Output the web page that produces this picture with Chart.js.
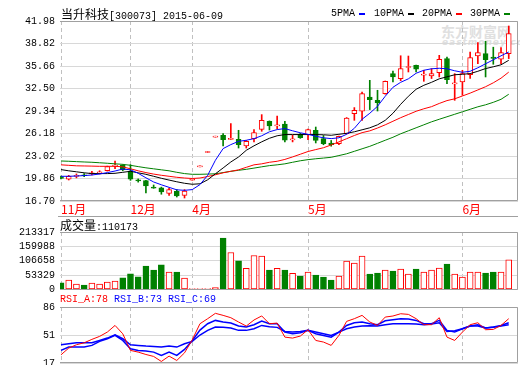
<!DOCTYPE html>
<html>
<head>
<meta charset="utf-8">
<title>当升科技 300073</title>
<script src="https://cdn.jsdelivr.net/npm/chart.js@4.4.1/dist/chart.umd.min.js"></script>
<style>
  html, body { margin: 0; padding: 0; background: #fff; }
  #box { position: relative; width: 520px; height: 365px; overflow: hidden; }
  #box canvas { position: absolute; left: 0; z-index: 1; }
  .t { position: absolute; white-space: nowrap; font: 10px/12px "Liberation Mono", monospace; color: #000; z-index: 2; }
  .zh { font: 12px/14px "Noto Sans CJK SC", sans-serif; }
  .sw { position: absolute; width: 6px; height: 2px; z-index: 2; }
  #wm { position: absolute; left: 441px; top: 21px; color: #e0e0e0; font: bold 14px "Noto Sans CJK SC", sans-serif; z-index: 0; }
  #wm2 { position: absolute; left: 442px; top: 37px; color: #e0e0e0; font: bold italic 9px "DejaVu Sans", sans-serif; letter-spacing: 1px; z-index: 0; }
</style>
</head>
<body>
<div id="box">
  <div id="wm">东方财富网</div>
  <div id="wm2">eastmoney.com</div>
  <canvas id="priceChart" width="520" height="218" style="top:0"></canvas>
  <canvas id="volChart" width="520" height="80" style="top:218px"></canvas>
  <canvas id="rsiChart" width="520" height="73" style="top:292px"></canvas>
  <div class="t" style="left:61px; top:7px"><span class="zh">当升科技</span>[300073] 2015-06-09</div>
  <div id="legend"></div>
  <div class="t" id="volTitle" style="left:60px; top:218px"></div>
  <div class="t" id="rsiTitle" style="left:60px; top:294px"></div>
</div>
<script>
// 月份刻度 (K线序号)
const monthIdx = [0, 9, 17, 32, 52];
const monthNames = ['11月', '12月', '4月', '5月', '6月'];

// 日K数据
const openP = [20.12, 19.75, 20.15, 20.38, 20.52, 20.66, 20.95, 21.60, 21.71, 20.85,
  19.66, 19.58, 18.64, 18.55, 17.75, 18.06, 17.50, 19.62, 21.50, 23.51,
  25.67, 25.93, 25.35, 25.36, 24.42, 25.46, 26.77, 27.89, 27.25, 27.50,
  25.28, 26.07, 26.03, 26.63, 25.46, 24.85, 24.76, 26.17, 28.98, 29.30,
  31.30, 30.84, 31.78, 34.59, 33.89, 35.45, 35.76, 34.38, 34.26, 34.73,
  36.70, 33.15, 33.41, 34.45, 37.06, 37.40, 36.90, 36.61, 37.40];
const closeP = [19.88, 20.15, 20.29, 20.24, 20.66, 20.80, 21.55, 21.74, 21.06, 19.78,
  19.52, 18.81, 18.50, 17.96, 18.30, 17.40, 18.10, 19.76, 21.64, 23.65,
  25.81, 25.32, 25.49, 24.62, 25.08, 26.30, 28.03, 27.23, 27.39, 25.25,
  25.42, 25.60, 26.73, 25.22, 24.76, 24.62, 25.79, 28.36, 29.44, 31.78,
  30.94, 30.52, 33.51, 34.12, 35.30, 35.59, 35.20, 34.52, 34.59, 36.61,
  33.75, 33.29, 34.59, 36.84, 37.54, 36.56, 36.72, 37.54, 40.20];
const highP = [20.20, 20.30, 20.50, 20.55, 20.85, 20.95, 21.60, 22.30, 21.80, 21.80,
  19.80, 19.62, 18.95, 18.65, 18.50, 18.30, 18.30, 19.76, 21.64, 23.65,
  25.81, 26.17, 27.57, 26.63, 25.20, 26.73, 28.83, 27.95, 28.64, 27.90,
  25.93, 26.20, 26.80, 27.09, 25.90, 25.20, 25.82, 28.42, 29.82, 32.00,
  33.65, 32.25, 33.55, 34.96, 37.10, 37.06, 35.80, 35.06, 35.30, 37.16,
  36.92, 34.59, 35.06, 37.60, 38.95, 39.14, 38.30, 38.24, 41.28];
const lowP = [19.80, 19.65, 19.95, 20.10, 20.35, 20.50, 20.90, 21.25, 20.95, 19.60,
  19.35, 17.85, 18.48, 17.65, 17.50, 17.26, 17.12, 19.62, 21.50, 23.51,
  25.67, 24.42, 25.30, 24.14, 24.14, 25.00, 26.49, 26.67, 26.87, 25.00,
  25.00, 25.50, 25.32, 24.85, 24.60, 24.40, 24.60, 26.10, 28.03, 28.00,
  29.54, 29.34, 31.70, 33.41, 33.60, 34.82, 34.82, 33.51, 33.90, 34.12,
  33.19, 30.84, 31.55, 33.90, 36.00, 34.12, 35.90, 35.99, 36.70];

// 均线
const maNames = ['5PMA', '10PMA', '20PMA', '30PMA'];
const ma5 = [20.17, 20.17, 20.21, 20.27, 20.35, 20.49, 20.69, 20.91, 21.19, 21.08,
  20.59, 19.96, 19.37, 18.98, 18.62, 18.27, 18.20, 18.30, 19.00, 20.31,
  22.42, 24.06, 24.62, 25.08, 25.23, 25.46, 25.86, 26.42, 26.73, 26.87,
  26.56, 26.28, 26.07, 25.79, 25.58, 25.46, 25.58, 26.07, 26.91, 28.18,
  29.02, 30.00, 31.41, 32.67, 33.37, 33.86, 34.64, 35.06, 35.27, 35.34,
  35.27, 34.99, 34.78, 34.92, 35.41, 35.97, 36.53, 37.09, 37.63];
const ma10 = [21.11, 20.94, 20.80, 20.66, 20.55, 20.55, 20.55, 20.59, 20.73, 20.87,
  20.66, 20.45, 20.17, 19.89, 19.64, 19.40, 19.19, 19.05, 19.12, 19.68,
  20.52, 21.34, 22.18, 22.88, 23.82, 24.45, 25.01, 25.51, 25.86, 26.03,
  26.03, 26.03, 26.03, 26.03, 26.00, 25.93, 26.07, 26.21, 26.42, 26.70,
  26.98, 27.40, 28.03, 29.02, 30.28, 31.41, 32.39, 32.95, 33.37, 33.86,
  34.14, 34.43, 34.50, 34.59, 34.92, 35.30, 35.55, 35.83, 36.46];
const ma20 = [21.78, 21.71, 21.64, 21.62, 21.60, 21.57, 21.57, 21.57, 21.50, 21.22,
  20.94, 20.69, 20.48, 20.31, 20.17, 20.03, 19.93, 19.86, 19.93, 20.14,
  20.38, 20.66, 20.87, 21.08, 21.43, 21.78, 21.92, 22.14, 22.28, 22.54,
  22.89, 23.27, 23.65, 23.92, 24.18, 24.57, 25.00, 25.45, 25.90, 26.30,
  26.55, 26.95, 27.40, 27.90, 28.40, 28.85, 29.30, 29.65, 29.95, 30.40,
  30.80, 31.05, 31.45, 31.85, 32.30, 32.75, 33.30, 33.95, 34.80];
const ma30 = [22.32, 22.28, 22.23, 22.18, 22.14, 22.07, 22.00, 21.92, 21.85, 21.71,
  21.53, 21.36, 21.22, 21.08, 20.94, 20.73, 20.55, 20.45, 20.45, 20.48,
  20.52, 20.69, 20.87, 21.01, 21.15, 21.32, 21.50, 21.67, 21.78, 21.92,
  22.14, 22.35, 22.51, 22.63, 22.73, 22.84, 23.08, 23.33, 23.68, 24.03,
  24.38, 24.80, 25.23, 25.65, 26.14, 26.56, 26.98, 27.40, 27.82, 28.18,
  28.53, 28.88, 29.23, 29.58, 29.93, 30.21, 30.56, 30.98, 31.69];

// 成交量
const volume = [25100, 35100, 20300, 16600, 24000, 20300, 27700, 31400, 43500, 58300,
  47200, 86700, 72000, 91500, 64600, 64600, 42400, 800, 1100, 1400,
  7400, 191100, 137300, 106300, 78200, 126200, 123600, 72000, 78200, 72000,
  59800, 49800, 64600, 53500, 46100, 35100, 49800, 105200, 97800, 123600,
  57200, 60900, 72000, 68300, 75600, 57200, 75600, 64600, 72000, 79300,
  94100, 57200, 46100, 64600, 64600, 60900, 64600, 64600, 110173];

// RSI
const rsiNames = ['RSI_A', 'RSI_B', 'RSI_C'];
const rsiLast = [78, 73, 69];
const rsiA = [27.1, 35.4, 39.5, 41.9, 46.1, 49.8, 55.1, 63.3, 53.0, 32.5,
  30.4, 27.5, 25.1, 18.9, 25.5, 20.1, 29.5, 45.5, 65.4, 71.6,
  78.2, 75.7, 72.8, 67.5, 62.5, 70.0, 75.0, 65.4, 66.2, 48.9,
  47.7, 50.2, 58.0, 44.8, 42.8, 38.7, 51.0, 68.3, 71.6, 75.7,
  67.5, 63.3, 73.6, 74.9, 77.7, 76.9, 71.6, 64.2, 64.2, 72.8,
  48.9, 44.8, 55.1, 64.2, 66.6, 58.0, 58.4, 63.3, 71.6];
const rsiB = [32.5, 36.6, 36.6, 36.6, 38.7, 43.6, 46.9, 51.0, 44.8, 34.5,
  32.5, 31.7, 30.4, 26.3, 30.4, 26.3, 33.7, 44.5, 57.5, 65.4,
  69.5, 67.5, 66.2, 62.5, 61.3, 64.2, 68.7, 65.4, 65.4, 55.1,
  53.1, 54.3, 57.2, 53.1, 51.0, 48.9, 55.1, 63.3, 66.6, 67.5,
  65.4, 64.2, 69.1, 70.3, 71.6, 71.2, 69.5, 65.4, 65.4, 69.5,
  57.2, 55.1, 59.2, 62.5, 64.2, 60.1, 61.3, 63.3, 66.6];
const rsiC = [39.5, 40.7, 41.9, 41.9, 41.9, 44.8, 47.7, 51.8, 46.9, 39.5,
  38.7, 37.8, 37.4, 36.6, 37.8, 36.6, 40.7, 43.6, 51.5, 57.2,
  61.3, 60.9, 60.1, 57.2, 57.2, 59.2, 63.3, 61.7, 60.9, 55.9,
  55.1, 55.9, 57.2, 55.1, 53.1, 51.0, 55.1, 59.2, 61.3, 62.5,
  62.9, 62.5, 64.2, 65.4, 65.4, 65.4, 65.0, 64.2, 65.0, 66.6,
  55.9, 56.8, 59.2, 62.5, 62.5, 60.1, 60.9, 62.5, 64.2];

// 坐标刻度
const priceTicks = [16.70, 19.86, 23.02, 26.18, 29.34, 32.50, 35.66, 38.82, 41.98];
const volTicks = [0, 53329, 106658, 159988, 213317];
const rsiTicks = [17, 51, 86];

const RED = '#ff0000', GREEN = '#008000', BLUE = '#0000ff', BLACK = '#000000';
const maColors = [BLUE, BLACK, RED, GREEN];
const rsiColors = [RED, BLUE, BLUE];
const rsiWidths = [1, 1.5, 1.5];
const X_MIN = -0.13, X_MAX = 59.2;

const idx = closeP.map((_, i) => i);
const isUp = idx.map(i => closeP[i] >= openP[i]);
const barColor = isUp.map(u => u ? RED : GREEN);
const barFill = isUp.map(u => u ? '#ffffff' : GREEN);

// 面板边框
const framePlugin = {
  id: 'panelFrame',
  afterDraw(chart, args, opts) {
    const { ctx, chartArea: a } = chart;
    const l = Math.round(a.left), r = Math.round(a.right) - 0.5;
    const t = Math.round(a.top) + 0.5, b = Math.round(a.bottom) - 0.5;
    ctx.save();
    ctx.strokeStyle = '#a0a0a0';
    ctx.lineWidth = 1;
    ctx.beginPath();
    ctx.moveTo(l, t); ctx.lineTo(r, t); ctx.lineTo(r, b); ctx.lineTo(l, b);
    if (opts.underline) {
      ctx.moveTo(opts.underline[0], opts.underline[1] + 0.5);
      ctx.lineTo(r + 0.5, opts.underline[1] + 0.5);
    }
    ctx.stroke();
    ctx.restore();
  }
};

function xScale(showLabels) {
  return {
    type: 'linear', min: X_MIN, max: X_MAX, offset: false,
    afterBuildTicks: s => { s.ticks = monthIdx.map(v => ({ value: v })); },
    afterFit: s => { s.height = showLabels ? 16 : 0; s.paddingLeft = 0; s.paddingRight = 0; },
    grid: { color: '#c0c0c0', drawTicks: false, offset: false },
    border: { display: false, dash: [4, 3] },
    ticks: {
      display: showLabels, autoSkip: false, maxRotation: 0, align: 'start', padding: 1, color: RED,
      font: { family: 'Noto Sans CJK SC', size: 12 },
      callback: v => monthNames[monthIdx.indexOf(v)]
    }
  };
}

function yScale(min, max, tickVals, fmt) {
  return {
    type: 'linear', min: min, max: max, beginAtZero: false,
    afterBuildTicks: s => { s.ticks = tickVals.map(v => ({ value: v })); },
    afterFit: s => { s.width = 60; s.paddingTop = 0; s.paddingBottom = 0; },
    grid: { color: '#d8d8d8', drawTicks: false },
    border: { display: false },
    ticks: { autoSkip: false, padding: 5, color: '#000', font: { family: 'Liberation Mono', size: 10 }, callback: fmt }
  };
}

function baseOptions(padding, scales, frame) {
  return {
    responsive: false, animation: false, events: [],
    layout: { padding: padding },
    scales: scales,
    plugins: { legend: { display: false }, tooltip: { enabled: false }, panelFrame: frame || {} }
  };
}

// 主图: K线 + 均线
new Chart(document.getElementById('priceChart'), {
  type: 'bar',
  data: {
    datasets: [
      ...[ma5, ma10, ma20, ma30].map((s, k) => ({
        type: 'line', label: maNames[k], data: idx.map(i => ({ x: i, y: s[i] })),
        borderColor: maColors[k], borderWidth: 1, pointRadius: 0, order: 0
      })),
      {
        label: 'body', data: idx.map(i => ({ x: i, y: [openP[i], closeP[i]] })),
        backgroundColor: barFill, borderColor: barColor, borderWidth: 1, borderSkipped: false,
        barThickness: 5, maxBarThickness: 5, grouped: false, minBarLength: 1, order: 1
      },
      {
        label: 'wick', data: idx.map(i => ({ x: i, y: [lowP[i], highP[i]] })),
        backgroundColor: barColor, borderWidth: 0,
        barThickness: 1, maxBarThickness: 1, grouped: false, order: 2
      }
    ]
  },
  options: baseOptions({ top: 21, right: 2, bottom: 1, left: 0 },
    { x: xScale(true), y: yScale(16.70, 41.98, priceTicks, v => v.toFixed(2)) },
    { underline: [58, 216] }),
  plugins: [framePlugin]
});

// 成交量
new Chart(document.getElementById('volChart'), {
  type: 'bar',
  data: {
    datasets: [{
      label: '成交量', data: idx.map(i => ({ x: i, y: volume[i] })),
      backgroundColor: barFill, borderColor: barColor, borderWidth: 1, borderSkipped: false,
      barThickness: 6, maxBarThickness: 6, grouped: false, minBarLength: 1
    }]
  },
  options: baseOptions({ top: 14, right: 2, bottom: 8.5, left: 0 },
    { x: xScale(false), y: yScale(0, 213317, volTicks, v => String(v)) }),
  plugins: [framePlugin]
});

// RSI
new Chart(document.getElementById('rsiChart'), {
  type: 'line',
  data: {
    datasets: [rsiA, rsiB, rsiC].map((s, k) => ({
      label: rsiNames[k], data: idx.map(i => ({ x: i, y: s[i] })),
      borderColor: rsiColors[k], borderWidth: rsiWidths[k], pointRadius: 0
    }))
  },
  options: baseOptions({ top: 15, right: 2, bottom: 2, left: 0 },
    { x: xScale(false), y: yScale(17, 86, rsiTicks, v => String(v)) }),
  plugins: [framePlugin]
});

// 文字: 图例 / 标题
const legendX = [331, 374, 422, 470];
const legend = document.getElementById('legend');
maNames.forEach((name, k) => {
  const s = document.createElement('div');
  s.className = 't';
  s.style.left = legendX[k] + 'px';
  s.style.top = '8px';
  s.textContent = name;
  legend.appendChild(s);
  const sw = document.createElement('div');
  sw.className = 'sw';
  sw.style.left = (legendX[k] + name.length * 6 + 4) + 'px';
  sw.style.top = '13px';
  sw.style.background = maColors[k];
  legend.appendChild(sw);
});

document.getElementById('volTitle').innerHTML =
  '<span class="zh">成交量</span>:' + volume[volume.length - 1];

document.getElementById('rsiTitle').innerHTML = rsiNames.map((n, k) =>
  '<span style="color:' + rsiColors[k] + '">' + n + ':' + rsiLast[k] + '</span>').join(' ');
</script>
</body>
</html>
